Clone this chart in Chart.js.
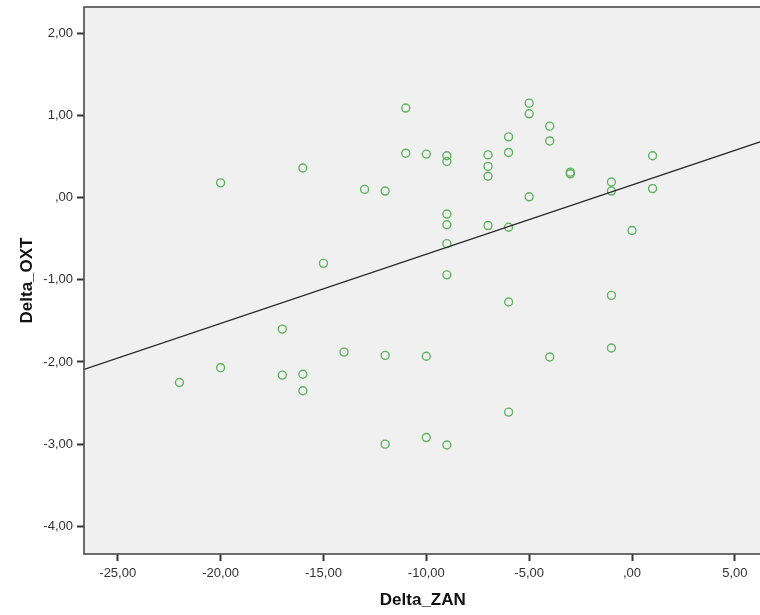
<!DOCTYPE html>
<html>
<head>
<meta charset="utf-8">
<script src="https://cdn.jsdelivr.net/npm/chart.js@4/dist/chart.umd.min.js"></script>
<style>
    html, body { margin: 0; padding: 0; background: #fff; overflow: hidden; }
    #wrap { width: 767px; height: 615px; }
</style>
</head>
<body>
<div id="wrap"><canvas id="scatter" width="767" height="615"></canvas></div>
<script>
var deltaZan = [-22, -20, -20, -17, -17, -16, -16, -16, -15, -14, -13, -12, -12, -12, -11, -11,
    -10, -10, -10, -9, -9, -9, -9, -9, -9, -9, -7, -7, -7, -7, -6, -6, -6, -6, -6,
    -5, -5, -5, -4, -4, -4, -3, -3, -1, -1, -1, -1, 0, 1, 1];
var deltaOxt = [-2.25, 0.18, -2.07, -1.60, -2.16, 0.36, -2.15, -2.35, -0.80, -1.88, 0.10, 0.08, -1.92, -3.00, 1.09, 0.54,
    0.53, -1.93, -2.92, 0.51, 0.44, -0.20, -0.33, -0.56, -0.94, -3.01, 0.52, 0.38, 0.26, -0.34, 0.74, 0.55, -0.36, -1.27, -2.61,
    1.15, 1.02, 0.01, 0.87, 0.69, -1.94, 0.31, 0.29, 0.19, 0.08, -1.19, -1.83, -0.40, 0.51, 0.11];
var xTicks = [-25, -20, -15, -10, -5, 0, 5];
var yTicks = [-4, -3, -2, -1, 0, 1, 2];

var xMin = -26.64, xMax = 6.30;
var yMin = -4.337, yMax = 2.32;

// least squares fit line
function fitLine(xs, ys) {
    var n = xs.length, sx = 0, sy = 0, sxx = 0, sxy = 0;
    for (var i = 0; i < n; i++) {
        sx += xs[i]; sy += ys[i];
        sxx += xs[i] * xs[i]; sxy += xs[i] * ys[i];
    }
    var b = (n * sxy - sx * sy) / (n * sxx - sx * sx);
    var a = (sy - b * sx) / n;
    return {a: a, b: b};
}

function fmt(v) {
    var s = Math.abs(v).toFixed(2).replace('.', ',');
    if (s.indexOf('0,') === 0) s = s.substring(1);
    return (v < 0 ? '-' : '') + s;
}

var fit = fitLine(deltaZan, deltaOxt);
var points = deltaZan.map(function (x, i) { return {x: x, y: deltaOxt[i]}; });

var frame = {
    id: 'frame',
    beforeDraw: function (chart) {
        var a = chart.chartArea, ctx = chart.ctx;
        ctx.save();
        ctx.fillStyle = '#f0f0f0';
        ctx.fillRect(a.left, a.top, a.right - a.left, a.bottom - a.top);
        ctx.restore();
    },
    afterDraw: function (chart) {
        var a = chart.chartArea, ctx = chart.ctx;
        ctx.save();
        ctx.strokeStyle = '#4a4a4a';
        ctx.lineWidth = 1.6;
        ctx.strokeRect(a.left, a.top, a.right - a.left, a.bottom - a.top);
        ctx.restore();
    }
};

var tickFont = {family: 'Liberation Sans, Arial, sans-serif', size: 13};
var titleFont = {family: 'Liberation Sans, Arial, sans-serif', size: 17, weight: 'bold'};

new Chart(document.getElementById('scatter').getContext('2d'), {
    type: 'scatter',
    data: {
        datasets: [{
            data: points,
            pointStyle: 'circle',
            pointRadius: 4,
            pointBorderWidth: 1.4,
            pointBorderColor: '#5fb35f',
            pointBackgroundColor: 'rgba(0,0,0,0)',
            order: 2
        }, {
            type: 'line',
            data: [{x: xMin, y: fit.a + fit.b * xMin}, {x: xMax, y: fit.a + fit.b * xMax}],
            borderColor: '#262626',
            borderWidth: 1.3,
            pointRadius: 0,
            fill: false,
            order: 1
        }]
    },
    options: {
        responsive: false,
        animation: false,
        layout: {padding: {top: 7, right: 0, left: 0, bottom: 0}},
        plugins: {legend: {display: false}, tooltip: {enabled: false}},
        scales: {
            x: {
                type: 'linear',
                min: xMin,
                max: xMax,
                afterFit: function (scale) {
                    scale.height = 61;
                    scale.paddingLeft = 0;
                    scale.paddingRight = 0;
                },
                afterBuildTicks: function (scale) {
                    scale.ticks = xTicks.map(function (v) { return {value: v}; });
                },
                ticks: {
                    callback: function (v) { return fmt(v); },
                    font: tickFont,
                    color: '#333',
                    padding: 5,
                    maxRotation: 0
                },
                grid: {drawOnChartArea: false, drawTicks: true, tickLength: 7, tickColor: '#333', tickWidth: 2},
                border: {display: false},
                title: {display: true, text: 'Delta_ZAN', font: titleFont, color: '#111', padding: {top: 3}}
            },
            y: {
                type: 'linear',
                min: yMin,
                max: yMax,
                afterFit: function (scale) {
                    scale.width = 84;
                    scale.paddingTop = 0;
                    scale.paddingBottom = 0;
                },
                afterBuildTicks: function (scale) {
                    scale.ticks = yTicks.map(function (v) { return {value: v}; });
                },
                ticks: {
                    callback: function (v) { return fmt(v); },
                    font: tickFont,
                    color: '#333',
                    padding: 4
                },
                grid: {drawOnChartArea: false, drawTicks: true, tickLength: 7, tickColor: '#333', tickWidth: 2},
                border: {display: false},
                title: {display: true, text: 'Delta_OXT', font: titleFont, color: '#111', padding: {top: 17, bottom: 0}}
            }
        }
    },
    plugins: [frame]
});
</script>
</body>
</html>
